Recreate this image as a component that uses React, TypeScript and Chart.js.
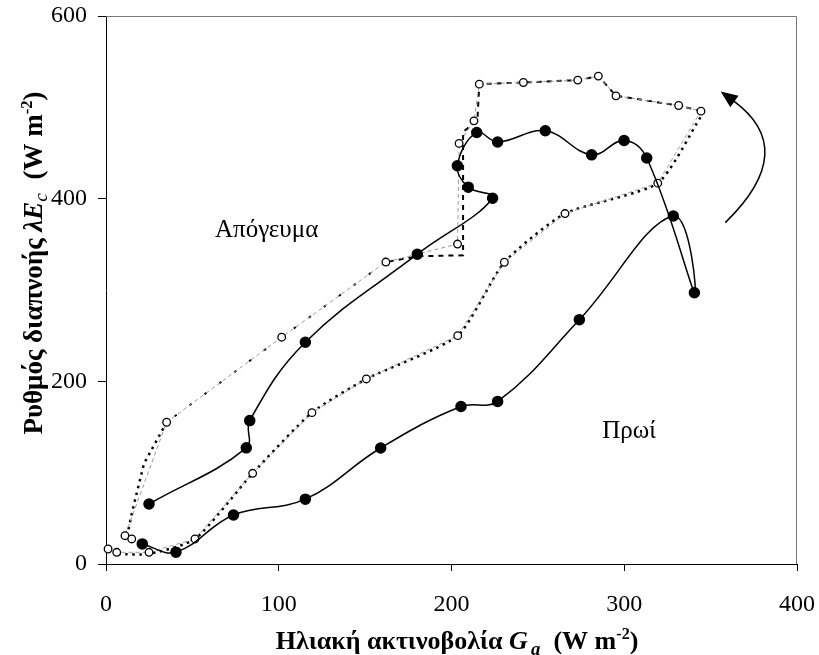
import { useEffect, useRef } from "react";
import { Chart, registerables } from "chart.js";

Chart.register(...registerables);

// ---- data ----
// Filled circles: one continuous path (morning rising, afternoon returning)
const FILLED_X = [21.0, 40.5, 73.8, 115.4, 159.0, 205.5, 226.7, 274.0, 328.4, 340.6, 313.0, 299.9, 281.1, 254.3, 226.7, 214.6, 203.4, 209.7, 223.8, 180.2, 115.4, 83.2, 81.2, 24.9];
const FILLED_Y = [22.0, 13.0, 53.7, 71.0, 127.0, 172.5, 178.0, 267.5, 381.0, 297.0, 444.5, 463.7, 448.0, 474.3, 462.0, 472.5, 436.0, 412.6, 400.5, 339.2, 242.8, 157.0, 127.2, 65.7];

// Open circles, in time order
const OPEN_X = [1.2, 6.2, 24.9, 51.5, 84.9, 119.2, 150.7, 203.6, 230.6, 265.7, 319.4, 344.4, 331.5, 295.2, 285.0, 273.1, 241.6, 216.1, 213.0, 204.4, 203.5, 162.0, 101.7, 35.1, 11.0, 14.9];
const OPEN_Y = [16.4, 12.8, 12.8, 27.4, 99.3, 165.7, 202.6, 250.0, 330.4, 383.7, 417.0, 495.8, 502.0, 512.6, 534.2, 529.8, 527.2, 525.4, 485.2, 460.5, 350.3, 330.6, 248.3, 155.2, 31.0, 27.4];

// Thick dotted trend trace of the open series (morning part)
const TRACE_AM_X = [7.1, 24.9, 51.5, 84.9, 119.2, 150.7, 203.6, 230.6, 265.7, 319.4, 344.4];
const TRACE_AM_Y = [11.0, 11.0, 27.4, 99.3, 165.7, 202.6, 250.0, 330.4, 383.7, 417.0, 490.0];
// Thick dashed trend trace of the open series (afternoon part)
const TRACE_PM_X = [344.4, 331.5, 295.2, 285.0, 273.1, 241.6, 216.1, 215.0, 206.7, 206.7, 180.6, 162.0, 101.7, 35.1, 22.0, 15.5, 13.0];
const TRACE_PM_Y = [496.0, 502.0, 512.6, 534.2, 529.8, 527.2, 525.4, 486.0, 473.0, 338.0, 337.0, 330.6, 248.3, 155.2, 110.0, 60.0, 38.0];

const X_TICKS = [0, 100, 200, 300, 400];
const Y_TICKS = [0, 200, 400, 600];

// text annotations (data coordinates of text centre / baseline)
const NOTE_TEXTS = ["Απόγευμα", "Πρωί"];
const NOTE_X = [93.0, 302.8];
const NOTE_Y = [358.5, 137.7];

// curved arrow (data coordinates): start, point on curve, tip
const ARROW_X = [358.5, 379.6, 355.8];
const ARROW_Y = [373.8, 449.8, 517.3];

const SERIF = "'Liberation Serif', 'Times New Roman', serif";

type Run = { t: string; italic?: boolean; bold?: boolean; scale?: number; dy?: number };

const X_TITLE: Run[] = [
  { t: "Ηλιακή ακτινοβολία ", bold: true },
  { t: "G", bold: true, italic: true },
  { t: " ", bold: true, scale: 0.5 },
  { t: "a", bold: true, italic: true, scale: 0.72, dy: 0.22 },
  { t: "  (W m", bold: true },
  { t: "-2", bold: true, scale: 0.62, dy: -0.38 },
  { t: ")", bold: true },
];
const Y_TITLE: Run[] = [
  { t: "Ρυθμός διαπνοής ", bold: true },
  { t: "λE", bold: true, italic: true },
  { t: "c", italic: true, scale: 0.72, dy: 0.18 },
  { t: "  (W m", bold: true },
  { t: "-2", bold: true, scale: 0.62, dy: -0.38 },
  { t: ")", bold: true },
];

function fontOf(r: Run, size: number) {
  return `${r.italic ? "italic " : ""}${r.bold ? "bold " : ""}${(size * (r.scale ?? 1)).toFixed(1)}px ${SERIF}`;
}

function drawRuns(ctx: CanvasRenderingContext2D, runs: Run[], size: number, cx: number, baseline: number) {
  const widths = runs.map((r) => {
    ctx.font = fontOf(r, size);
    return ctx.measureText(r.t).width;
  });
  const total = widths.reduce((a, b) => a + b, 0);
  let x = cx - total / 2;
  ctx.textAlign = "left";
  ctx.textBaseline = "alphabetic";
  runs.forEach((r, i) => {
    ctx.font = fontOf(r, size);
    ctx.fillText(r.t, x, baseline + (r.dy ?? 0) * size);
    x += widths[i];
  });
}

const decor = {
  id: "decor",
  beforeDatasetsDraw(chart: any) {
    const { ctx, chartArea } = chart;
    ctx.save();
    ctx.strokeStyle = "#777";
    ctx.lineWidth = 1;
    ctx.beginPath();
    ctx.moveTo(chartArea.left, chartArea.top + 0.5);
    ctx.lineTo(chartArea.right - 0.5, chartArea.top + 0.5);
    ctx.lineTo(chartArea.right - 0.5, chartArea.bottom);
    ctx.stroke();
    ctx.restore();
  },
  afterDraw(chart: any) {
    const { ctx, chartArea, scales } = chart;
    const xs = scales.x;
    const ys = scales.y;
    ctx.save();
    ctx.fillStyle = "#000";
    // notes
    ctx.font = `25px ${SERIF}`;
    ctx.textAlign = "center";
    ctx.textBaseline = "alphabetic";
    NOTE_TEXTS.forEach((t, i) => {
      ctx.fillText(t, xs.getPixelForValue(NOTE_X[i]), ys.getPixelForValue(NOTE_Y[i]));
    });
    // axis titles
    drawRuns(ctx, X_TITLE, 26, chartArea.left + 351, chartArea.bottom + 85);
    ctx.save();
    ctx.translate(42, chartArea.top + 247);
    ctx.rotate(-Math.PI / 2);
    drawRuns(ctx, Y_TITLE, 27, 0, 0);
    ctx.restore();
    // arrow
    const p0 = { x: xs.getPixelForValue(ARROW_X[0]), y: ys.getPixelForValue(ARROW_Y[0]) };
    const pm = { x: xs.getPixelForValue(ARROW_X[1]), y: ys.getPixelForValue(ARROW_Y[1]) };
    const p2 = { x: xs.getPixelForValue(ARROW_X[2]), y: ys.getPixelForValue(ARROW_Y[2]) };
    const p1 = { x: 2 * pm.x - (p0.x + p2.x) / 2, y: 2 * pm.y - (p0.y + p2.y) / 2 };
    const dx = p2.x - p1.x;
    const dy = p2.y - p1.y;
    const len = Math.hypot(dx, dy);
    const ux = dx / len;
    const uy = dy / len;
    const headLen = 17;
    const headHalf = 7;
    const bx = p2.x - ux * headLen;
    const by = p2.y - uy * headLen;
    ctx.strokeStyle = "#000";
    ctx.lineWidth = 1.5;
    ctx.beginPath();
    ctx.moveTo(p0.x, p0.y);
    ctx.quadraticCurveTo(p1.x, p1.y, bx + ux * 2, by + uy * 2);
    ctx.stroke();
    ctx.beginPath();
    ctx.moveTo(p2.x, p2.y);
    ctx.lineTo(bx - uy * headHalf, by + ux * headHalf);
    ctx.lineTo(bx + uy * headHalf, by - ux * headHalf);
    ctx.closePath();
    ctx.fill();
    ctx.restore();
  },
};

const pts = (xs: number[], ys: number[]) => xs.map((x, i) => ({ x, y: ys[i] }));

export default function App() {
  const ref = useRef<HTMLCanvasElement>(null);
  useEffect(() => {
    if (!ref.current) return;
    const tickFont = { family: SERIF, size: 24 };
    const chart = new Chart(ref.current, {
      type: "scatter",
      data: {
        datasets: [
          {
            label: "filled",
            data: pts(FILLED_X, FILLED_Y),
            showLine: true,
            borderColor: "#000",
            borderWidth: 1.5,
            tension: 0.4,
            pointRadius: 5,
            pointBackgroundColor: "#000",
            pointBorderColor: "#000",
            order: 0,
            clip: false,
          },
          {
            label: "open",
            data: pts(OPEN_X, OPEN_Y),
            showLine: true,
            borderColor: "#9a9a9a",
            borderWidth: 1,
            borderDash: [4, 3],
            tension: 0,
            pointRadius: 3.8,
            pointBorderWidth: 1.3,
            pointBackgroundColor: "#fff",
            pointBorderColor: "#000",
            order: 1,
            clip: false,
          },
          {
            label: "traceAM",
            data: pts(TRACE_AM_X, TRACE_AM_Y),
            showLine: true,
            borderColor: "#000",
            borderWidth: 2.5,
            borderDash: [2.5, 4.5],
            tension: 0.2,
            pointRadius: 0,
            order: 2,
            clip: false,
          },
          {
            label: "tracePM",
            data: pts(TRACE_PM_X, TRACE_PM_Y),
            showLine: true,
            borderColor: "#000",
            borderWidth: 2,
            borderDash: [5, 5],
            tension: 0,
            pointRadius: 0,
            order: 3,
            clip: false,
            segment: {
              // sparse dots on the long afternoon return, dotted near the origin
              borderDash: (c: any) =>
                c.p0DataIndex >= 11 && c.p0DataIndex < 13
                  ? [2.5, 16]
                  : c.p0DataIndex >= 13
                  ? [2.5, 4.5]
                  : undefined,
              borderWidth: (c: any) => (c.p0DataIndex >= 13 ? 2.5 : undefined),
            },
          },
        ],
      },
      options: {
        responsive: false,
        animation: false,
        layout: { padding: { top: 16, right: 22, left: 0, bottom: 0 } },
        plugins: { legend: { display: false }, tooltip: { enabled: false } },
        scales: {
          x: {
            type: "linear",
            min: 0,
            max: 400,
            afterBuildTicks: (s: any) => {
              s.ticks = X_TICKS.map((v) => ({ value: v }));
            },
            afterFit: (s: any) => {
              s.height = 91;
              s.paddingLeft = 0;
              s.paddingRight = 0;
              s.paddingTop = 0;
              s.paddingBottom = 0;
            },
            ticks: { font: tickFont, color: "#000", padding: 19, maxRotation: 0 },
            grid: { drawOnChartArea: false, drawTicks: true, tickLength: 7, color: "#000" },
            border: { color: "#000", width: 1 },
          },
          y: {
            type: "linear",
            min: 0,
            max: 600,
            afterBuildTicks: (s: any) => {
              s.ticks = Y_TICKS.map((v) => ({ value: v }));
            },
            afterFit: (s: any) => {
              s.width = 106;
              s.paddingLeft = 0;
              s.paddingRight = 0;
              s.paddingTop = 0;
              s.paddingBottom = 0;
            },
            ticks: { font: tickFont, color: "#000", padding: 11 },
            grid: { drawOnChartArea: false, drawTicks: true, tickLength: 8, color: "#000" },
            border: { color: "#000", width: 1 },
          },
        },
      },
      plugins: [decor],
    } as any);
    return () => chart.destroy();
  }, []);
  return (
    <div style={{ position: "fixed", left: 0, top: 0, width: 819, height: 655, background: "#fff" }}>
      <canvas ref={ref} width={819} height={655} style={{ display: "block" }} />
    </div>
  );
}
